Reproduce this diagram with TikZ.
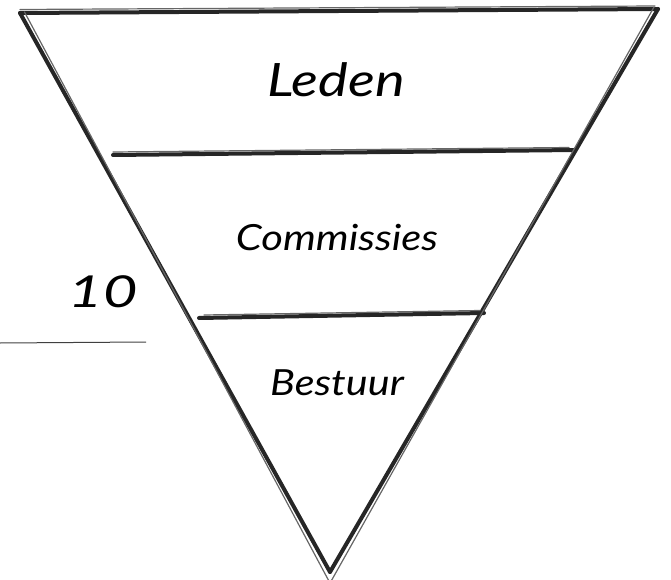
\documentclass[tikz,border=0pt]{standalone}
\usepackage{fontspec}
\setmainfont{Lato}
\newfontfamily\handfont{Lato}[UprightFont=* Italic]
\begin{document}
\begin{tikzpicture}[x=1pt,y=-1pt,
  sketch/.style={line width=4pt,black!85,line cap=round,line join=round},
  sketchthin/.style={line width=1.2pt,black!60,line cap=round},
  lbl/.style={font=\handfont,text=black,inner sep=0pt}]
\useasboundingbox (0,0) rectangle (671,580);
% corners
\coordinate (tl) at (20,13);
\coordinate (tr) at (658,9);
\coordinate (ap) at (330,572);
\coordinate (l1a) at (113,155);
\coordinate (l1b) at (575,150);
\coordinate (l2a) at (199,318);
\coordinate (l2b) at (484,313);
% main strokes
\draw[sketch] (tl) -- (tr);
\draw[sketch] (tl) -- (ap);
\draw[sketch] (tr) -- (ap);
\draw[sketch] (l1a) -- (l1b);
\draw[sketch] (l2a) -- (l2b);
% second sketchy strokes
\draw[sketchthin] ([yshift=3.5pt]tl) -- ([xshift=-3pt,yshift=3pt]tr);
\draw[sketchthin] ([xshift=4.5pt,yshift=1pt]tl) -- ([xshift=0.5pt,yshift=-12pt]ap);
\draw[sketchthin] ([xshift=-4pt,yshift=2pt]tr) -- ([xshift=-0.5pt,yshift=-12pt]ap);
\draw[sketchthin] ([yshift=3pt]l1a) -- ([xshift=-6pt,yshift=2.5pt]l1b);
\draw[sketchthin] ([xshift=5pt,yshift=3pt]l2a) -- ([xshift=-4pt,yshift=2.5pt]l2b);
% labels
\node[lbl,xscale=1.22,font=\handfont\fontsize{46}{50}\selectfont] (leden) at (336,80) {Leden};
\node[lbl,xscale=1.16,font=\handfont\fontsize{36}{40}\selectfont] (comm) at (337,238) {Commissies};
\node[lbl,xscale=1.15,font=\handfont\fontsize{36}{40}\selectfont] (best) at (337,383) {Bestuur};
\node[lbl,xscale=1.35,font=\handfont\fontsize{44}{48}\selectfont] (ten) at (103,292) {10};
\coordinate (ua) at (0,343);
\coordinate (ub) at (146,342);
\draw[line width=1pt,black!75] (ua) -- (ub);
\end{tikzpicture}
\end{document}
